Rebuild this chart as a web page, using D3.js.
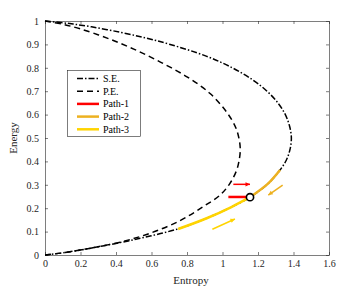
<!DOCTYPE html>
<html><head><meta charset="utf-8">
<script src="https://cdn.jsdelivr.net/npm/d3@7"></script>
<style>
body{margin:0;background:#fff;}
svg text{font-family:"Liberation Serif","Times New Roman",serif !important;}
svg{display:block;}
</style></head>
<body><svg id="c" width="353" height="287"></svg>
<script>
// Data (Entropy, Energy)
const seCurve = [[0,1],[0.128,0.99],[0.262,0.975],[0.43,0.951],[0.57,0.927],[0.70,0.901],[0.908,0.85],[1.055,0.80],[1.167,0.75],[1.251,0.70],[1.312,0.65],[1.354,0.60],[1.378,0.55],[1.388,0.50],[1.38,0.45],[1.36,0.406],[1.324,0.363],[1.258,0.306],[1.155,0.247],[1.05,0.205],[0.911,0.157],[0.76,0.114],[0.592,0.081],[0.423,0.053],[0.197,0.021],[0.09,0.008],[0,0]];
const peCurve = [[0,1],[0.1,0.986],[0.2,0.966],[0.35,0.927],[0.5,0.88],[0.65,0.8245],[0.8,0.7615],[0.93,0.69],[1.024,0.61],[1.075,0.544],[1.095,0.49],[1.10,0.45],[1.095,0.41],[1.08,0.363],[1.042,0.306],[0.986,0.256],[0.892,0.207],[0.761,0.147],[0.592,0.093],[0.423,0.055],[0.197,0.021],[0.09,0.008],[0,0]];
const path1 = [[1.033,0.248],[1.155,0.248]];
const path2 = [[1.155,0.247],[1.258,0.306],[1.324,0.363]];
const path3 = [[0.75,0.111],[0.911,0.157],[1.05,0.205],[1.155,0.247]];
const marker = [1.155,0.247];
const arrows = [
  {from:[1.061,0.302], to:[1.155,0.302], color:"#ff0000"},
  {from:[1.339,0.299], to:[1.258,0.256], color:"#edb120"},
  {from:[0.943,0.110], to:[1.070,0.154], color:"#ffd400"}
];
const xTicks = [0,0.2,0.4,0.6,0.8,1,1.2,1.4,1.6];
const yTicks = [0,0.1,0.2,0.3,0.4,0.5,0.6,0.7,0.8,0.9,1];
const legendItems = [
  {label:"S.E.", color:"#000", dash:"6,2,1.5,2", w:1.5},
  {label:"P.E.", color:"#000", dash:"6,4", w:1.5},
  {label:"Path-1", color:"#ff0000", dash:null, w:2.5},
  {label:"Path-2", color:"#edb120", dash:null, w:2.5},
  {label:"Path-3", color:"#ffd400", dash:null, w:2.5}
];

const svg = d3.select("#c");
const L=45,R=329,T=21,B=255;
const x = d3.scaleLinear().domain([0,1.6]).range([L,R]);
const y = d3.scaleLinear().domain([0,1]).range([B,T]);
const axCol = "#262626";

function styleAxis(g){
  g.attr("font-family",null);
  g.selectAll("path,line").attr("stroke",axCol).attr("stroke-width",0.6);
  g.selectAll("text").attr("fill",axCol).style("font-size","10px");
}
const fmt = d=>String(d);
svg.append("g").attr("transform",`translate(0,${B})`)
  .call(d3.axisBottom(x).tickValues(xTicks).tickFormat(fmt).tickSizeInner(-3).tickSizeOuter(0).tickPadding(5)).call(styleAxis);
svg.append("g").attr("transform",`translate(0,${T})`)
  .call(d3.axisTop(x).tickValues(xTicks).tickFormat("").tickSizeInner(-3).tickSizeOuter(0)).call(styleAxis);
svg.append("g").attr("transform",`translate(${L},0)`)
  .call(d3.axisLeft(y).tickValues(yTicks).tickFormat(fmt).tickSizeInner(-3).tickSizeOuter(0).tickPadding(6)).call(styleAxis);
svg.append("g").attr("transform",`translate(${R},0)`)
  .call(d3.axisRight(y).tickValues(yTicks).tickFormat("").tickSizeInner(-3).tickSizeOuter(0)).call(styleAxis);

svg.append("text").attr("x",(L+R)/2+4).attr("y",B+29).attr("text-anchor","middle")
  .attr("fill",axCol).style("font-size","11px").text("Entropy");
svg.append("text").attr("transform",`translate(17,${(T+B)/2}) rotate(-90)`).attr("text-anchor","middle")
  .attr("fill",axCol).style("font-size","11px").text("Energy");

const line = d3.line().x(d=>x(d[0])).y(d=>y(d[1])).curve(d3.curveCatmullRom.alpha(0.5));

svg.append("path").attr("d",line(seCurve)).attr("fill","none").attr("stroke","#000").attr("stroke-width",1.5).attr("stroke-dasharray","6,2,1.5,2");
svg.append("path").attr("d",line(peCurve)).attr("fill","none").attr("stroke","#000").attr("stroke-width",1.5).attr("stroke-dasharray","6,4");
svg.append("path").attr("d",line(path3)).attr("fill","none").attr("stroke","#ffd400").attr("stroke-width",2.5);
svg.append("path").attr("d",line(path2)).attr("fill","none").attr("stroke","#edb120").attr("stroke-width",2.5);
svg.append("path").attr("d",d3.line().x(d=>x(d[0])).y(d=>y(d[1]))(path1)).attr("fill","none").attr("stroke","#ff0000").attr("stroke-width",2.5);

arrows.forEach(a=>{
  const x1=x(a.from[0]),y1=y(a.from[1]),x2=x(a.to[0]),y2=y(a.to[1]);
  const ang=Math.atan2(y2-y1,x2-x1), h=5, s=0.45;
  svg.append("line").attr("x1",x1).attr("y1",y1).attr("x2",x2).attr("y2",y2).attr("stroke",a.color).attr("stroke-width",1.5);
  svg.append("polygon").attr("points",[
    [x2,y2],
    [x2-h*Math.cos(ang-s), y2-h*Math.sin(ang-s)],
    [x2-h*Math.cos(ang+s), y2-h*Math.sin(ang+s)]
  ].map(p=>p.join(",")).join(" ")).attr("fill",a.color);
});

svg.append("circle").attr("cx",x(marker[0])).attr("cy",y(marker[1])).attr("r",3.6)
  .attr("fill","#fff").attr("stroke","#000").attr("stroke-width",1.6);

// Legend
const lg = svg.append("g");
lg.append("rect").attr("x",67.5).attr("y",70.5).attr("width",73).attr("height",66)
  .attr("fill","#fff").attr("stroke",axCol).attr("stroke-width",0.6);
legendItems.forEach((it,i)=>{
  const yy = 78.5 + i*12.7;
  lg.append("line").attr("x1",77).attr("x2",99).attr("y1",yy).attr("y2",yy)
    .attr("stroke",it.color).attr("stroke-width",it.w).attr("stroke-dasharray",it.dash);
  lg.append("text").attr("x",103).attr("y",yy+3.5).attr("fill","#000").style("font-size","10px").text(it.label);
});
</script></body></html>
